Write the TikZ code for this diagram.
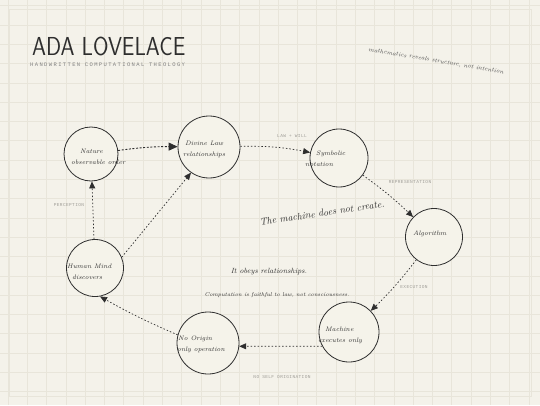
\documentclass[tikz,border=0pt]{standalone}
\usepackage{fontspec}
\usetikzlibrary{arrows.meta}
\newfontfamily\tagfont[LetterSpace=8]{Liberation Mono}
\newfontfamily\subfont[LetterSpace=25]{Liberation Mono}
\definecolor{paper}{HTML}{F4F2EA}
\definecolor{gridline}{HTML}{E8E5DA}
\definecolor{disc}{HTML}{F5F3EA}
\definecolor{ink}{HTML}{2E2E2E}
\definecolor{faint}{HTML}{A09E98}
\tikzset{
  idea/.style={circle,draw=ink,fill=disc,line width=0.8pt,inner sep=0pt},
  hand/.style={font=\fontsize{6.5}{11}\selectfont\itshape,text=ink,align=left,anchor=west},
  flow/.style={draw=ink,line width=0.7pt,dash pattern=on 1.5pt off 2pt,
    -{Triangle[length=7pt,width=6pt]}},
  tag/.style={font=\tagfont\fontsize{4.5}{5}\selectfont,text=faint}
}
\begin{document}
\begin{tikzpicture}[x=1pt,y=1pt, every node/.style={inner sep=0pt}]
  % Бумага в клетку
  \useasboundingbox (0,0) rectangle (540,405);
  \fill[paper] (0,0) rectangle (540,405);
  \foreach \k in {0,...,27} \draw[gridline,line width=0.5pt] (8+\k*19.29,0) -- (8+\k*19.29,405);
  \foreach \k in {0,...,20} \draw[gridline,line width=0.5pt] (0,399.3-\k*19.29) -- (540,399.3-\k*19.29);
  \draw[gridline,line width=0.5pt] (9,9) rectangle (531,396);
  % Заголовок
  \node[font=\sffamily\fontsize{26}{26}\selectfont,text=ink,anchor=base west,xscale=0.86,transform shape] (title) at (32,349.5) {ADA LOVELACE};
  \node[font=\subfont\fontsize{5.5}{6}\selectfont,text=ink!60,anchor=north west] (subtitle) at (30,342.5) {HANDWRITTEN COMPUTATIONAL THEOLOGY};
  \node[font=\fontsize{6}{8}\selectfont\itshape,text=ink!85,rotate=-9.5] (motto) at (436,344) {mathematics reveals structure, not intention};
  % Круги
  \node[idea,minimum size=54pt] (nat) at (91,251) {};
  \node[idea,minimum size=62pt] (law) at (209,258) {};
  \node[idea,minimum size=58pt] (sym) at (339,247) {};
  \node[idea,minimum size=57pt] (alg) at (434,168) {};
  \node[idea,minimum size=60pt] (mac) at (349,73) {};
  \node[idea,minimum size=62pt] (ori) at (208,62) {};
  \node[idea,minimum size=57pt] (hum) at (95,137) {};
  % Подписи в кругах
  \node[hand] (nat-txt) at (71,248.5) {\hspace*{9pt}Nature\\observable order};
  \node[hand] (law-txt) at (183,255.5) {\hspace*{2pt}Divine Law\\relationships};
  \node[hand] (sym-txt) at (305,246.5) {\hspace*{11pt}Symbolic\\notation};
  \node[hand] (alg-txt) at (413,171) {Algorithm};
  \node[hand] (mac-txt) at (318,69.5) {\hspace*{7pt}Machine\\executes only};
  \node[hand] (ori-txt) at (177,61) {\hspace*{1pt}No Origin\\only operation};
  \node[hand] (hum-txt) at (67,133) {Human Mind\\\hspace*{5pt}discovers};
  % Стрелки
  \draw[flow,line width=0.9pt,dash pattern=on 2pt off 1.6pt,-{Triangle[length=9pt,width=8pt]}] (nat) to[bend left=4] (law);
  \draw[flow] (law) to[bend left=6] (sym);
  \draw[flow] (sym) to[bend left=4] (alg);
  \draw[flow] (alg) to[bend left=4] (mac);
  \draw[flow] (mac.208) -- (ori.354);
  \draw[flow] (ori.165) to[bend left=3] (hum.-80);
  \draw[flow] (hum) -- (nat);
  \draw[flow] (hum.22) -- (law.235);
  % Метки стрелок
  \node[tag] (t-law) at (292,269) {LAW + WILL};
  \node[tag] (t-rep) at (410,223) {REPRESENTATION};
  \node[tag] (t-exe) at (414,118) {EXECUTION};
  \node[tag] (t-ori) at (282,28) {NO SELF ORIGINATION};
  \node[tag] (t-per) at (69,200) {PERCEPTION};
  % Тезисы
  \node[font=\fontsize{9.8}{12}\selectfont\itshape,text=ink,rotate=8.5] (create) at (322,192) {The machine does not create.};
  \node[font=\fontsize{7.5}{9}\selectfont\itshape,text=ink] (obeys) at (269,133) {It obeys relationships.};
  \node[font=\fontsize{5.6}{7}\selectfont\itshape,text=ink] (faith) at (277,110) {Computation is faithful to law, not consciousness.};
\end{tikzpicture}
\end{document}
